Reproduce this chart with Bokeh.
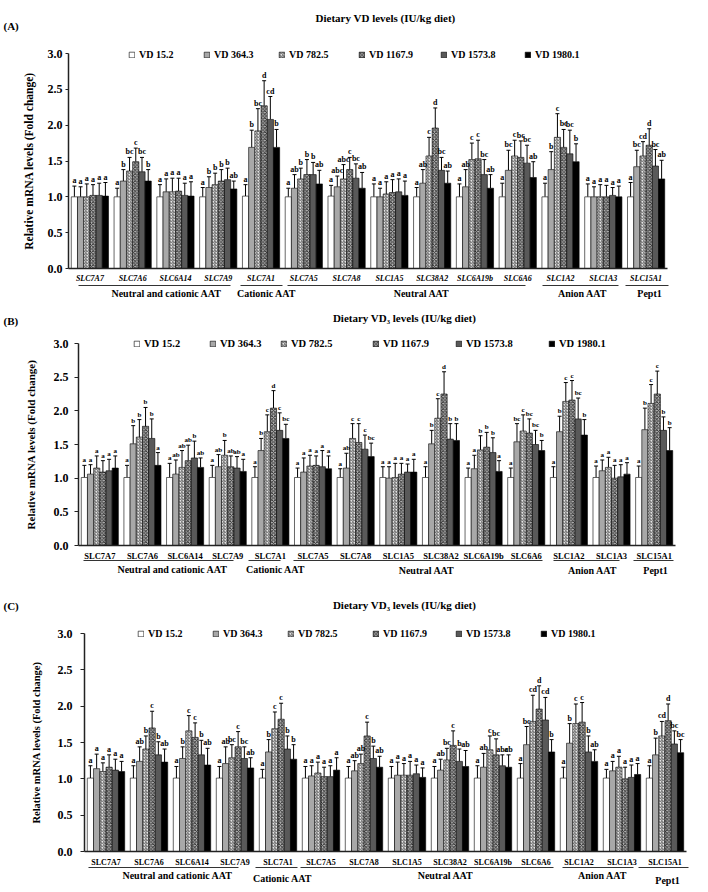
from bokeh.plotting import figure
from bokeh.models import (ColumnDataSource, Range1d, FixedTicker, NumeralTickFormatter,
                          Whisker, TeeHead, Legend, LegendItem, Label, Arrow)
from bokeh.layouts import column
from bokeh.embed import file_html
from bokeh.resources import INLINE
from bokeh.core.properties import value

FONT = "Liberation Serif"

GENES = ["SLC7A7", "SLC7A6", "SLC6A14", "SLC7A9", "SLC7A1", "SLC7A5", "SLC7A8",
         "SLC1A5", "SLC38A2", "SLC6A19b", "SLC6A6", "SLC1A2", "SLC1A3", "SLC15A1"]
GROUPS = ["Neutral and cationic AAT", "Cationic AAT", "Neutral AAT", "Anion AAT", "Pept1"]
SERIES = ["VD 15.2", "VD 364.3", "VD 782.5", "VD 1167.9", "VD 1573.8", "VD 1980.1"]

# ---------------- Panel A ----------------
A_MEAN = [
    [1.00, 1.00, 1.00, 1.02, 1.02, 1.01],
    [1.00, 1.22, 1.36, 1.49, 1.35, 1.22],
    [1.00, 1.07, 1.07, 1.08, 1.02, 1.01],
    [1.00, 1.13, 1.17, 1.22, 1.24, 1.11],
    [1.01, 1.69, 1.92, 2.27, 2.08, 1.69],
    [1.00, 1.12, 1.25, 1.31, 1.31, 1.18],
    [1.01, 1.14, 1.25, 1.38, 1.26, 1.12],
    [1.00, 1.00, 1.04, 1.06, 1.07, 1.02],
    [1.00, 1.19, 1.57, 1.96, 1.37, 1.19],
    [1.00, 1.14, 1.52, 1.53, 1.31, 1.12],
    [1.00, 1.37, 1.57, 1.55, 1.47, 1.27],
    [1.00, 1.38, 1.83, 1.69, 1.60, 1.49],
    [1.00, 1.00, 1.00, 1.00, 1.02, 1.00],
    [1.00, 1.42, 1.57, 1.72, 1.43, 1.25],
]
A_SEM = [
    [0.15, 0.14, 0.18, 0.15, 0.17, 0.19],
    [0.12, 0.16, 0.19, 0.19, 0.20, 0.16],
    [0.17, 0.18, 0.19, 0.18, 0.17, 0.20],
    [0.13, 0.15, 0.16, 0.16, 0.16, 0.11],
    [0.16, 0.24, 0.31, 0.35, 0.32, 0.25],
    [0.12, 0.19, 0.15, 0.21, 0.17, 0.19],
    [0.15, 0.15, 0.20, 0.17, 0.20, 0.22],
    [0.18, 0.12, 0.17, 0.18, 0.18, 0.20],
    [0.13, 0.19, 0.26, 0.28, 0.18, 0.17],
    [0.18, 0.24, 0.23, 0.26, 0.21, 0.19],
    [0.19, 0.28, 0.22, 0.23, 0.25, 0.22],
    [0.19, 0.25, 0.33, 0.25, 0.33, 0.25],
    [0.18, 0.14, 0.17, 0.16, 0.11, 0.15],
    [0.20, 0.23, 0.20, 0.23, 0.23, 0.26],
]
A_LETTERS = [
    "a a a a a a", "a b bc c bc b", "a a a a a a", "a b b b b ab",
    "a b bc d cd b", "a ab b b b ab", "a abc abc c bc ab", "a a a a a a",
    "a ab c d bc ab", "a ab c c bc ab", "a bc c bc bc ab", "a b c bc bc b",
    "a a a a a a", "a bc cd d bc ab",
]

# ---------------- Panel B ----------------
B_MEAN = [
    [1.01, 1.06, 1.15, 1.09, 1.11, 1.15],
    [1.01, 1.51, 1.61, 1.77, 1.59, 1.19],
    [1.01, 1.06, 1.16, 1.26, 1.30, 1.16],
    [1.01, 1.17, 1.34, 1.17, 1.15, 1.10],
    [1.01, 1.41, 1.69, 2.04, 1.71, 1.59],
    [1.01, 1.09, 1.18, 1.19, 1.17, 1.14],
    [1.01, 1.15, 1.59, 1.53, 1.43, 1.32],
    [1.01, 1.00, 1.01, 1.06, 1.09, 1.09],
    [1.01, 1.51, 1.89, 2.25, 1.58, 1.56],
    [1.01, 1.14, 1.42, 1.46, 1.38, 1.10],
    [1.01, 1.54, 1.70, 1.67, 1.50, 1.41],
    [1.01, 1.69, 2.14, 2.16, 1.88, 1.64],
    [1.01, 1.11, 1.16, 1.00, 1.02, 1.06],
    [1.01, 1.72, 2.11, 2.25, 1.71, 1.41],
]
B_SEM = [
    [0.18, 0.14, 0.18, 0.17, 0.17, 0.18],
    [0.18, 0.27, 0.26, 0.28, 0.29, 0.19],
    [0.21, 0.21, 0.25, 0.23, 0.25, 0.14],
    [0.18, 0.18, 0.22, 0.16, 0.17, 0.18],
    [0.16, 0.18, 0.25, 0.26, 0.26, 0.21],
    [0.14, 0.21, 0.16, 0.14, 0.24, 0.19],
    [0.13, 0.22, 0.22, 0.28, 0.21, 0.20],
    [0.16, 0.17, 0.21, 0.16, 0.12, 0.19],
    [0.16, 0.20, 0.29, 0.33, 0.23, 0.25],
    [0.14, 0.20, 0.21, 0.22, 0.22, 0.16],
    [0.14, 0.27, 0.24, 0.21, 0.21, 0.15],
    [0.16, 0.23, 0.28, 0.29, 0.31, 0.23],
    [0.17, 0.16, 0.15, 0.19, 0.18, 0.17],
    [0.17, 0.32, 0.28, 0.34, 0.20, 0.34],
]
B_LETTERS = [
    "a a a a a a", "a b b b b a", "a ab ab ab b ab", "a ab b ab ab a",
    "a b c d c bc", "a a a a a a", "a ab c c c bc", "a a a a a a",
    "a b c d b b", "a a b b b a", "a bc c bc bc b", "a b c c bc b",
    "a a a a a a", "a b c c b b",
]

# ---------------- Panel C ----------------
C_MEAN = [
    [1.01, 1.14, 1.10, 1.16, 1.12, 1.10],
    [1.01, 1.24, 1.41, 1.70, 1.33, 1.23],
    [1.01, 1.28, 1.66, 1.57, 1.33, 1.19],
    [1.01, 1.21, 1.29, 1.44, 1.28, 1.15],
    [1.01, 1.37, 1.69, 1.82, 1.41, 1.27],
    [1.01, 1.04, 1.08, 1.03, 1.03, 1.12],
    [1.01, 1.11, 1.21, 1.59, 1.28, 1.16],
    [1.01, 1.05, 1.05, 1.05, 1.07, 1.02],
    [1.01, 1.12, 1.26, 1.46, 1.24, 1.17],
    [1.01, 1.16, 1.40, 1.33, 1.18, 1.16],
    [1.01, 1.47, 1.79, 1.96, 1.81, 1.37],
    [1.01, 1.49, 1.76, 1.78, 1.37, 1.24],
    [1.01, 1.11, 1.16, 1.00, 1.02, 1.06],
    [1.01, 1.33, 1.59, 1.80, 1.48, 1.36],
]
C_SEM = [
    [0.17, 0.20, 0.12, 0.17, 0.15, 0.14],
    [0.17, 0.20, 0.18, 0.23, 0.18, 0.18],
    [0.16, 0.16, 0.21, 0.20, 0.20, 0.23],
    [0.16, 0.23, 0.18, 0.21, 0.16, 0.14],
    [0.12, 0.17, 0.23, 0.22, 0.18, 0.20],
    [0.16, 0.14, 0.15, 0.13, 0.15, 0.17],
    [0.16, 0.14, 0.13, 0.19, 0.17, 0.15],
    [0.16, 0.18, 0.16, 0.19, 0.12, 0.13],
    [0.16, 0.15, 0.16, 0.20, 0.17, 0.22],
    [0.17, 0.19, 0.19, 0.22, 0.15, 0.17],
    [0.20, 0.25, 0.36, 0.32, 0.31, 0.17],
    [0.15, 0.27, 0.27, 0.27, 0.22, 0.16],
    [0.12, 0.13, 0.15, 0.16, 0.17, 0.15],
    [0.17, 0.23, 0.20, 0.23, 0.18, 0.18],
]
C_LETTERS = [
    "a a a a a a", "a ab b c b ab", "a b c c b ab", "a ab bc c bc ab",
    "a b c c b b", "a a a a a a", "a ab ab c b ab", "a a a a a a",
    "a ab bc c b ab", "a ab c bc abc ab", "a bc cd d cd b", "a b c c b ab",
    "a a a a a a", "a b cd d bc bc",
]

# bar styles per diet level
STYLES = [
    dict(fill_color="white"),
    dict(fill_color="#a8a8a8"),
    dict(fill_color="#e4e4e4", hatch_pattern="right_diagonal_line", hatch_color="#555555",
         hatch_scale=3, hatch_weight=0.9),
    dict(fill_color="#b8b8b8", hatch_pattern="diagonal_cross", hatch_color="#2a2a2a",
         hatch_scale=3.5, hatch_weight=0.9),
    dict(fill_color="#595959"),
    dict(fill_color="black"),
]
BW = 0.145

# pixel layout of each panel in page coordinates (figures span x 0..PAGE_R)
GEO = {
    "A": dict(top=0, h=305, frame=(68, 667, 53, 268), tag_y=25, title_x=385, title_y=17,
              leg_x=[128, 203, 278, 358, 440, 524], leg_y=54, leg_fs="10px",
              line_y=285, lines=[(78, 230), (240, 282), (287, 525), (542, 618), (625, 668)],
              texts=[(166, 293), (266, 293), (421, 293), (582, 293), (649, 293)],
              tick_fs="8px", tick_style="bold italic", tick_standoff=5,
              letter_fs="8px", ylab_fs="11.5px", ylab_standoff=10, ytick_out=3, ytick_standoff=3),
    "B": dict(top=305, h=281, frame=(78, 675, 343, 545), tag_y=320, title_x=404, title_y=317,
              leg_x=[133, 209, 280, 372, 455, 548], leg_y=343, leg_fs="10.5px",
              line_y=560, lines=[(83, 233), (248, 280), (293, 542), (553, 619), (633, 673)],
              texts=[(172, 569), (275, 569), (426, 570), (592, 570), (655, 570)],
              tick_fs="8.5px", tick_style="bold", tick_standoff=5,
              letter_fs="7px", ylab_fs="11px", ylab_standoff=14, ytick_out=4, ytick_standoff=6),
    "C": dict(top=586, h=304, frame=(84, 686, 633, 851), tag_y=605, title_x=404, title_y=604,
              leg_x=[137, 212, 287, 372, 455, 540], leg_y=633, leg_fs="10px",
              line_y=867, lines=[(88, 238), (255, 297), (300, 553), (562, 633), (638, 688)],
              texts=[(177, 875), (282, 878), (445, 875), (602, 875), (667, 880)],
              tick_fs="8px", tick_style="bold", tick_standoff=6,
              letter_fs="8px", ylab_fs="10.5px", ylab_standoff=13, ytick_out=4, ytick_standoff=8),
}
PAGE_L, PAGE_R = 0, 706


def make_panel(tag, title, mean, sem, letters, g):
    L, R, T, B = g["frame"]
    n = len(GENES)
    gw = (R - L) / n
    ppu = (B - T) / 3.0
    fig_bot = g["top"] + g["h"]

    def dx(px):
        return (px - L) / gw - 0.5

    def dy(py):
        return (B - py) / ppu

    p = figure(width=PAGE_R - PAGE_L, height=g["h"],
               x_range=Range1d(dx(PAGE_L), dx(PAGE_R)),
               y_range=Range1d(dy(fig_bot), dy(g["top"])),
               output_backend="svg", toolbar_location=None, title=None,
               min_border=0, min_border_left=0, min_border_right=0,
               min_border_top=0, min_border_bottom=0)
    p.outline_line_color = None
    p.xgrid.visible = False
    p.ygrid.visible = False

    renderers = []
    for k in range(len(SERIES)):
        src = ColumnDataSource(dict(x=[i + (k - 2.5) * BW for i in range(n)],
                                    top=[mean[i][k] for i in range(n)]))
        r = p.vbar(x="x", top="top", bottom=0, width=BW, source=src,
                   line_color="black", line_width=0.6, **STYLES[k])
        renderers.append(r)

    wx, wl, wu, wt = [], [], [], []
    for i in range(n):
        lets = letters[i].split()
        for k in range(len(SERIES)):
            wx.append(i + (k - 2.5) * BW)
            wl.append(mean[i][k])
            wu.append(mean[i][k] + sem[i][k])
            wt.append(lets[k])
    ws = ColumnDataSource(dict(base=wx, lower=wl, upper=wu, t=wt))
    p.add_layout(Whisker(source=ws, base="base", lower="lower", upper="upper",
                         dimension="height", line_color="black", line_width=1,
                         upper_head=TeeHead(size=4, line_color="black", line_width=1),
                         lower_head=None))
    p.text(x="base", y="upper", text="t", source=ws, text_align="center",
           text_baseline="bottom", y_offset=-1, text_font=value(FONT),
           text_font_style="bold", text_font_size=g["letter_fs"], text_color="black")

    # x axis at y = 0
    xa = p.xaxis[0]
    xa.fixed_location = 0
    xa.bounds = (-0.5, n - 0.5)
    xa.ticker = FixedTicker(ticks=list(range(n)))
    xa.major_label_overrides = {i: name for i, name in enumerate(GENES)}
    xa.major_tick_line_color = None
    xa.major_tick_in = 0
    xa.major_tick_out = 0
    xa.minor_tick_line_color = None
    xa.minor_tick_in = 0
    xa.minor_tick_out = 0
    xa.axis_line_width = 1.5
    xa.axis_line_color = "#222222"
    xa.major_label_standoff = g["tick_standoff"]
    xa.major_label_text_font = FONT
    xa.major_label_text_font_style = g["tick_style"]
    xa.major_label_text_font_size = g["tick_fs"]
    xa.major_label_text_color = "black"

    # y axis at the left end of the category range
    ya = p.yaxis[0]
    ya.fixed_location = -0.5
    ya.bounds = (0, 3)
    ya.ticker = FixedTicker(ticks=[0, 0.5, 1.0, 1.5, 2.0, 2.5, 3.0])
    ya.formatter = NumeralTickFormatter(format="0.0")
    ya.minor_tick_line_color = None
    ya.major_tick_in = 0
    ya.major_tick_out = g["ytick_out"]
    ya.major_label_standoff = g["ytick_standoff"]
    ya.axis_line_width = 1.5
    ya.axis_line_color = "#222222"
    ya.major_tick_line_color = "#222222"
    ya.major_label_text_font = FONT
    ya.major_label_text_font_style = "bold"
    ya.major_label_text_font_size = "12px"
    ya.major_label_text_color = "black"
    ya.axis_label = "Relative mRNA levels (Fold change)"
    ya.axis_label_text_font = FONT
    ya.axis_label_text_font_style = "bold"
    ya.axis_label_text_font_size = g["ylab_fs"]
    ya.axis_label_standoff = g["ylab_standoff"]
    ya.axis_label_text_color = "black"

    # legend: one entry per diet level, placed along the 3.0 line
    for k, r in enumerate(renderers):
        lg = Legend(items=[LegendItem(label=SERIES[k], renderers=[r])],
                    location=(g["leg_x"][k] - PAGE_L, fig_bot - g["leg_y"] - 6),
                    orientation="horizontal", padding=0, margin=0, spacing=0,
                    border_line_color=None, background_fill_alpha=0,
                    glyph_width=7, glyph_height=7, label_standoff=4, label_height=7,
                    label_text_font=FONT, label_text_font_style="bold",
                    label_text_font_size=g["leg_fs"], label_text_color="black")
        p.add_layout(lg)

    # panel tag and title
    p.add_layout(Label(x=dx(PAGE_L + 3), y=dy(g["tag_y"]), text=tag, text_align="left",
                       text_baseline="middle", text_font=FONT, text_font_style="bold",
                       text_font_size="11px", text_color="black"))
    p.add_layout(Label(x=dx(g["title_x"]), y=dy(g["title_y"]), text=title, text_align="center",
                       text_baseline="middle", text_font=FONT, text_font_style="bold",
                       text_font_size="11px", text_color="black"))

    # transporter family brackets below the gene labels
    for (x0, x1) in g["lines"]:
        p.add_layout(Arrow(x_start=dx(x0), y_start=dy(g["line_y"]), x_end=dx(x1),
                           y_end=dy(g["line_y"]), start=None, end=None,
                           line_color="#333333", line_width=1))
    for name, (tx, ty) in zip(GROUPS, g["texts"]):
        p.add_layout(Label(x=dx(tx), y=dy(ty), text=name, text_align="center",
                           text_baseline="middle", text_font=FONT, text_font_style="bold",
                           text_font_size="10px", text_color="black"))
    return p


pA = make_panel("(A)", "Dietary VD levels (IU/kg diet)", A_MEAN, A_SEM, A_LETTERS, GEO["A"])
pB = make_panel("(B)", "Dietary VD\u2083 levels (IU/kg diet)", B_MEAN, B_SEM, B_LETTERS, GEO["B"])
pC = make_panel("(C)", "Dietary VD\u2083 levels (IU/kg diet)", C_MEAN, C_SEM, C_LETTERS, GEO["C"])

layout = column(pA, pB, pC)
open("out.html", "w").write(file_html(layout, INLINE))
